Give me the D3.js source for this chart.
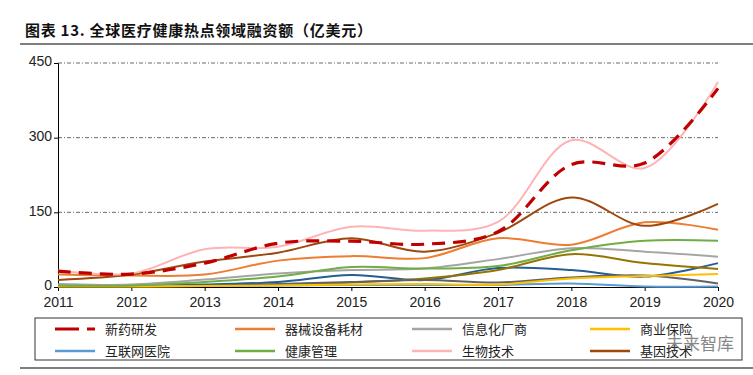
<!DOCTYPE html>
<html>
<head>
<meta charset="utf-8">
<script src="https://cdn.jsdelivr.net/npm/d3@7"></script>
<style>
  body { margin: 0; background: #fff; }
  svg { display: block; font-family: "Liberation Sans", Arial, sans-serif; }
</style>
</head>
<body>
<main></main>
<script>
const width = 753;
const height = 375;
const margin = {top: 63, bottom: 88, left: 58, right: 35};

const years = [2011, 2012, 2013, 2014, 2015, 2016, 2017, 2018, 2019, 2020];
const yTicks = [0, 150, 300, 450];

// legend series
const newDrug     = [32, 26, 48, 88, 92, 86, 111, 246, 249, 399];
const devices     = [25, 23, 25, 53, 62, 58, 98, 85, 130, 115];
const infoVendors = [5, 5, 15, 27, 34, 37, 56, 78, 71, 61];
const insurance   = [1, 1, 2, 3, 5, 6, 5, 17, 22, 26];
const netHospital = [2, 2, 2, 3, 4, 4, 4, 7, 1, 1];
const healthMgmt  = [3, 3, 10, 21, 40, 37, 42, 74, 93, 93];
const biotech     = [33, 27, 76, 81, 121, 113, 131, 295, 239, 412];
const geneTech    = [14, 25, 51, 69, 98, 71, 109, 180, 123, 167];
// unlabelled series
const darkBlue    = [5, 4, 5, 10, 24, 14, 38, 34, 21, 48];
const olive       = [1, 1, 2, 5, 9, 17, 34, 66, 48, 36];
const darkGray    = [2, 2, 3, 6, 10, 14, 9, 19, 23, 7];

const series = [
  {name: "新药研发", values: newDrug, color: "#C00000", dash: true, legend: true},
  {name: "器械设备耗材", values: devices, color: "#ED7D31", legend: true},
  {name: "信息化厂商", values: infoVendors, color: "#A5A5A5", legend: true},
  {name: "商业保险", values: insurance, color: "#FFC000", legend: true},
  {name: "互联网医院", values: netHospital, color: "#5B9BD5", legend: true},
  {name: "健康管理", values: healthMgmt, color: "#70AD47", legend: true},
  {name: "生物技术", values: biotech, color: "#FFB3B5", legend: true},
  {name: "基因技术", values: geneTech, color: "#9E480E", legend: true},
  {name: "s9", values: darkBlue, color: "#255E91"},
  {name: "s10", values: olive, color: "#997300"},
  {name: "s11", values: darkGray, color: "#636363"}
];

const svg = d3.select("main")
  .append("svg")
    .attr("width", width)
    .attr("height", height);

// title
svg.append("text")
  .attr("x", 25)
  .attr("y", 36)
  .attr("font-family", "'Noto Sans CJK SC', sans-serif")
  .attr("font-size", 15)
  .attr("font-weight", "bold")
  .attr("fill", "#111")
  .attr("textLength", 347)
  .attr("lengthAdjust", "spacing")
  .text("图表 13. 全球医疗健康热点领域融资额（亿美元）");

svg.append("line")
  .attr("x1", 20).attr("x2", width)
  .attr("y1", 44).attr("y2", 44)
  .attr("stroke", "#000").attr("stroke-width", 1.2);

const x = d3.scaleLinear()
  .domain(d3.extent(years))
  .range([margin.left, width - margin.right]);
const y = d3.scaleLinear()
  .domain([0, 450])
  .range([height - margin.bottom, margin.top]);

// grid
svg.append("g")
  .selectAll("line")
  .data(yTicks.filter(d => d > 0))
  .join("line")
    .attr("x1", x(2011)).attr("x2", x(2020))
    .attr("y1", d => y(d)).attr("y2", d => y(d))
    .attr("stroke", "#444")
    .attr("stroke-width", 0.8)
    .attr("stroke-dasharray", "4,2,1,2");

// axes
const axisY = svg.append("g")
  .attr("transform", `translate(${margin.left},0)`)
  .call(d3.axisLeft(y).tickValues(yTicks).tickSize(4).tickFormat(d3.format("d")));
axisY.select(".domain").attr("stroke", "#000");
axisY.selectAll("text").attr("font-size", 14).attr("fill", "#222").attr("dx", 1).attr("dy", "0.2em");

const axisX = svg.append("g")
  .attr("transform", `translate(0,${y(0)})`)
  .call(d3.axisBottom(x).tickValues(years).tickSize(4).tickFormat(d3.format("d")));
axisX.select(".domain").attr("stroke", "#000");
axisX.selectAll("text").attr("font-size", 14).attr("fill", "#222").attr("dy", "0.95em");

// lines
const line = d3.line()
  .x((d, i) => x(years[i]))
  .y(d => y(d))
  .curve(d3.curveCatmullRom.alpha(0.5));

const drawOrder = [8, 9, 10, 4, 3, 2, 5, 1, 7, 6, 0].map(i => series[i]);
svg.append("g")
  .selectAll("path")
  .data(drawOrder)
  .join("path")
    .attr("d", d => line(d.values))
    .attr("fill", "none")
    .attr("stroke", d => d.color)
    .attr("stroke-width", d => d.dash ? 3.2 : 2)
    .attr("stroke-dasharray", d => d.dash ? "13,8" : null);

// legend
const legendTop = 318;
svg.append("rect")
  .attr("x", 35).attr("y", legendTop)
  .attr("width", 707).attr("height", 42)
  .attr("fill", "none").attr("stroke", "#333").attr("stroke-width", 1);

const colX = [55, 235, 412, 590];
const legendItems = series.filter(d => d.legend);
const lg = svg.append("g")
  .selectAll("g")
  .data(legendItems)
  .join("g")
    .attr("transform", (d, i) => `translate(${colX[i % 4]},${legendTop + 11 + Math.floor(i / 4) * 22})`);

lg.append("line")
  .attr("x1", 0).attr("x2", 40)
  .attr("stroke", d => d.color)
  .attr("stroke-width", d => d.dash ? 3.2 : 2.5)
  .attr("stroke-dasharray", d => d.dash ? "24,8" : null);

lg.append("text")
  .attr("x", 50)
  .attr("dy", "0.35em")
  .attr("font-family", "'Noto Sans CJK SC', sans-serif")
  .attr("font-size", 13)
  .attr("fill", "#222")
  .text(d => d.name);

// watermark
svg.append("text")
  .attr("x", 666).attr("y", 350)
  .attr("font-family", "'Noto Sans CJK SC', sans-serif")
  .attr("font-size", 17)
  .attr("fill", "#555")
  .attr("opacity", 0.7)
  .text("未来智库");

svg.append("line")
  .attr("x1", 20).attr("x2", width)
  .attr("y1", 368).attr("y2", 368)
  .attr("stroke", "#000").attr("stroke-width", 1.2);
</script>
</body>
</html>
